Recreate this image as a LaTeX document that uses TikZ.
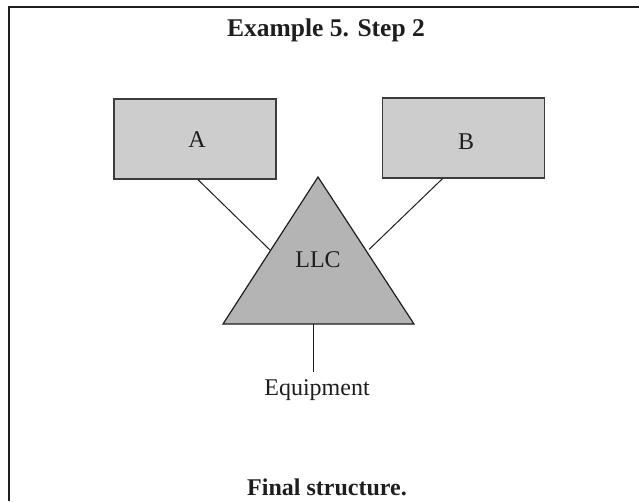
\documentclass[tikz,border=0pt]{standalone}
\usepackage{fontspec}
\setmainfont{Liberation Serif}
\usetikzlibrary{calc}
\definecolor{boxfill}{HTML}{CDCDCD}
\definecolor{trifill}{HTML}{B4B4B4}
\definecolor{boxedge}{HTML}{3C3C3C}
\definecolor{ink}{HTML}{1E1E1E}
\begin{document}
\begin{tikzpicture}[x=1pt,y=-1pt,
  unitbox/.style={draw=boxedge, fill=boxfill, line width=1.3pt,
    minimum width=162pt, minimum height=80pt, inner sep=0pt},
  txt/.style={inner sep=0pt, text=ink, font=\fontsize{24}{27}\selectfont},
  headline/.style={inner sep=0pt, text=ink, font=\fontsize{25.5}{28}\selectfont\bfseries},
  footline/.style={inner sep=0pt, text=ink, font=\fontsize{24}{27}\selectfont\bfseries},
  link/.style={draw=ink, line width=1pt},
  frameline/.style={draw=ink, line width=2pt}
]
\useasboundingbox (0,0) rectangle (639,501);

% open frame along the top and left
\draw[frameline] (8.5,501) -- (8.5,6.5) -- (639,6.5);

% heading and caption
\node[headline] (title) at (326,30) {Example 5. Step 2};
\node[footline] (caption) at (327,487) {Final structure.};

% the two partner boxes
\node[unitbox] (A) at (195,139) {};
\node[txt] (Alabel) at (197,140) {A};
\node[unitbox] (B) at (463.5,138) {};
\node[txt] (Blabel) at (466,142) {B};

% the LLC triangle
\coordinate (apex) at (318,177);
\coordinate (baseL) at (223,324);
\coordinate (baseR) at (414,324);
\filldraw[fill=trifill, draw=ink, line width=1.2pt, line join=miter]
  (apex) -- (baseL) -- (baseR) -- cycle;
\node[txt] (llc) at (318,260) {LLC};

% attachment points on the triangle
\coordinate (sideL) at ($(apex)!0.5!(baseL)$);
\coordinate (sideR) at ($(apex)!0.5!(baseR)+(3,-1)$);
\coordinate (stemTop) at (313,324);
\coordinate (stemEnd) at (313,372);

\node[txt] (equip) at (317,390) {Equipment};

% connectors
\draw[link] ($(A.south)+(3,0)$) -- (sideL);
\draw[link] ($(B.south)+(-21,0)$) -- (sideR);
\draw[link] (stemTop) -- (stemEnd);
\end{tikzpicture}
\end{document}
